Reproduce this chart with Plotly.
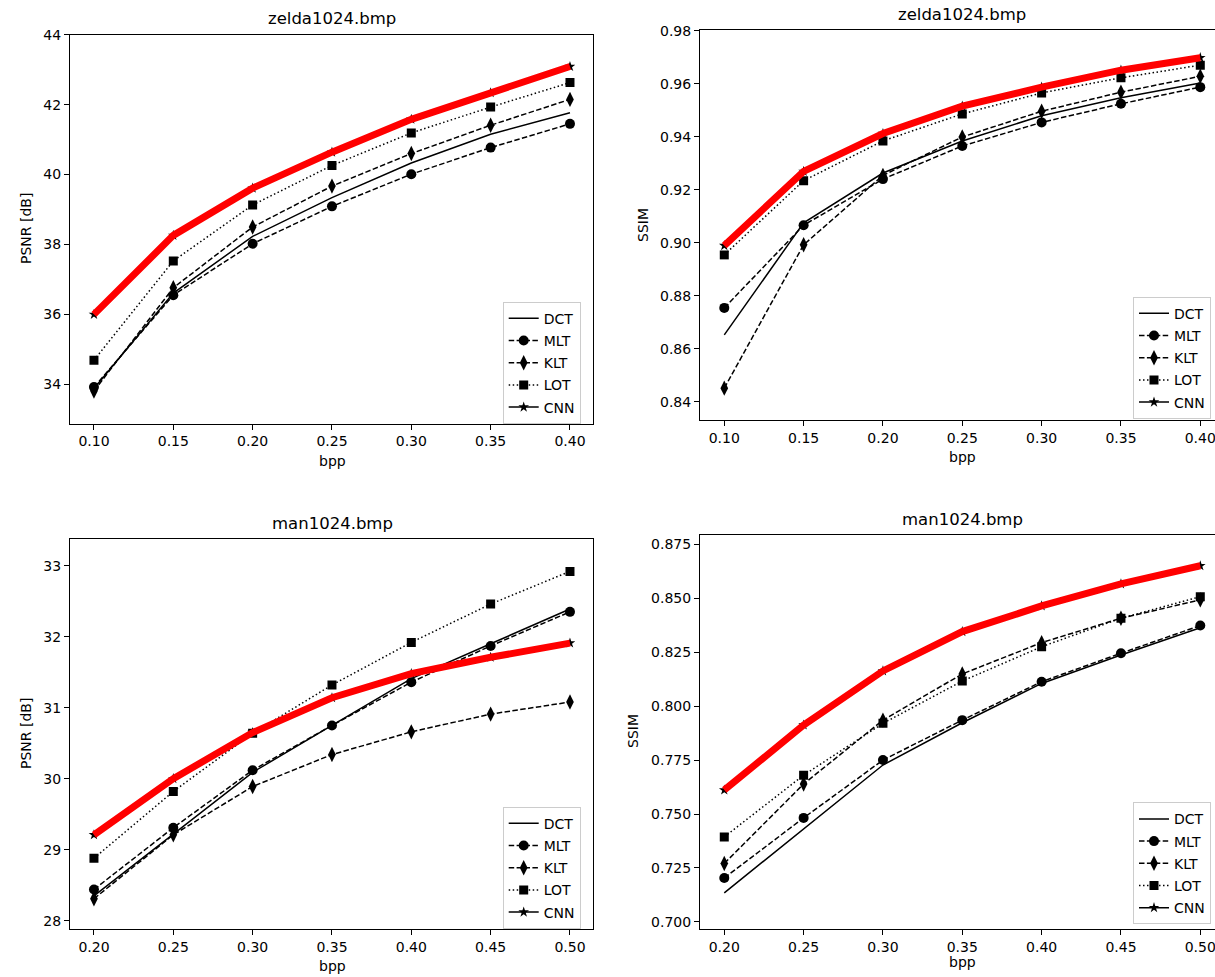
import plotly.graph_objects as go

# ---------------- data ----------------
bpp_zelda = [0.10, 0.15, 0.20, 0.25, 0.30, 0.35, 0.40]
bpp_man = [0.20, 0.25, 0.30, 0.35, 0.40, 0.45, 0.50]

zelda_psnr_dct = [33.88, 36.61, 38.23, 39.34, 40.33, 41.15, 41.77]
zelda_psnr_mlt = [33.92, 36.55, 38.02, 39.09, 40.01, 40.77, 41.45]
zelda_psnr_klt = [33.81, 36.76, 38.50, 39.67, 40.60, 41.41, 42.15]
zelda_psnr_lot = [34.69, 37.53, 39.13, 40.26, 41.19, 41.93, 42.63]
zelda_psnr_cnn = [36.00, 38.26, 39.61, 40.64, 41.58, 42.34, 43.09]

zelda_ssim_dct = [0.8652, 0.9075, 0.9263, 0.9384, 0.9479, 0.9547, 0.9603]
zelda_ssim_mlt = [0.8754, 0.9066, 0.9240, 0.9365, 0.9454, 0.9524, 0.9587]
zelda_ssim_klt = [0.8451, 0.8992, 0.9254, 0.9399, 0.9496, 0.9568, 0.9628]
zelda_ssim_lot = [0.8954, 0.9234, 0.9384, 0.9486, 0.9565, 0.9622, 0.9670]
zelda_ssim_cnn = [0.8989, 0.9269, 0.9412, 0.9515, 0.9587, 0.9651, 0.9698]

man_psnr_dct = [28.35, 29.22, 30.09, 30.75, 31.41, 31.90, 32.39]
man_psnr_mlt = [28.44, 29.31, 30.12, 30.75, 31.36, 31.87, 32.35]
man_psnr_klt = [28.31, 29.21, 29.89, 30.34, 30.66, 30.91, 31.08]
man_psnr_lot = [28.88, 29.82, 30.64, 31.32, 31.92, 32.46, 32.92]
man_psnr_cnn = [29.21, 30.00, 30.65, 31.14, 31.48, 31.71, 31.91]

man_ssim_dct = [0.7135, 0.7433, 0.7727, 0.7923, 0.8105, 0.8237, 0.8363]
man_ssim_mlt = [0.7204, 0.7482, 0.7750, 0.7935, 0.8113, 0.8245, 0.8373]
man_ssim_klt = [0.7271, 0.7639, 0.7935, 0.8149, 0.8294, 0.8407, 0.8492]
man_ssim_lot = [0.7394, 0.7680, 0.7920, 0.8116, 0.8275, 0.8407, 0.8507]
man_ssim_cnn = [0.7611, 0.7912, 0.8163, 0.8345, 0.8464, 0.8566, 0.8650]

series_names = ["DCT", "MLT", "KLT", "LOT", "CNN"]

xticks_zelda = [0.10, 0.15, 0.20, 0.25, 0.30, 0.35, 0.40]
xticks_zelda_text = ["0.10", "0.15", "0.20", "0.25", "0.30", "0.35", "0.40"]
xticks_man = [0.20, 0.25, 0.30, 0.35, 0.40, 0.45, 0.50]
xticks_man_text = ["0.20", "0.25", "0.30", "0.35", "0.40", "0.45", "0.50"]
yticks_zpsnr = [34, 36, 38, 40, 42, 44]
yticks_zssim = [0.84, 0.86, 0.88, 0.90, 0.92, 0.94, 0.96, 0.98]
yticks_zssim_text = ["0.84", "0.86", "0.88", "0.90", "0.92", "0.94", "0.96", "0.98"]
yticks_mpsnr = [28, 29, 30, 31, 32, 33]
yticks_mssim = [0.700, 0.725, 0.750, 0.775, 0.800, 0.825, 0.850, 0.875]
yticks_mssim_text = ["0.700", "0.725", "0.750", "0.775", "0.800", "0.825", "0.850", "0.875"]

titles = ["zelda1024.bmp", "zelda1024.bmp", "man1024.bmp", "man1024.bmp"]

# ---------------- layout helpers ----------------
# The original figure is wider than the 1215 px window: its right edge is cut off.
W, H = 1245, 977
FONT = "DejaVu Sans"


def fx(p):
    return p / W


def fy(p):
    return 1 - p / H


styles = [
    dict(dash="solid", symbol=None),
    dict(dash="5.5px,2.4px", symbol="circle"),
    dict(dash="5.5px,2.4px", symbol="diamond-tall"),
    dict(dash="1.5px,2.5px", symbol="square"),
    dict(dash="solid", symbol="star"),
]
msize = [0, 10, 11, 9, 8]

fig = go.Figure()

panels = [
    (bpp_zelda, [zelda_psnr_dct, zelda_psnr_mlt, zelda_psnr_klt, zelda_psnr_lot, zelda_psnr_cnn]),
    (bpp_zelda, [zelda_ssim_dct, zelda_ssim_mlt, zelda_ssim_klt, zelda_ssim_lot, zelda_ssim_cnn]),
    (bpp_man, [man_psnr_dct, man_psnr_mlt, man_psnr_klt, man_psnr_lot, man_psnr_cnn]),
    (bpp_man, [man_ssim_dct, man_ssim_mlt, man_ssim_klt, man_ssim_lot, man_ssim_cnn]),
]
legend_ids = ["legend", "legend2", "legend3", "legend4"]

for pi, (xs, ys_list) in enumerate(panels):
    xa = "x" if pi == 0 else f"x{pi+1}"
    ya = "y" if pi == 0 else f"y{pi+1}"
    for si, (name, ys) in enumerate(zip(series_names, ys_list)):
        st = styles[si]
        if st["symbol"] is None:
            mode = "lines"
            marker = None
        else:
            mode = "lines+markers"
            marker = dict(symbol=st["symbol"], size=msize[si], color="black",
                          line=dict(width=0))
        fig.add_trace(go.Scatter(
            x=xs, y=ys, name=name, mode=mode, marker=marker,
            line=dict(color="black", width=1.5, dash=st["dash"]),
            xaxis=xa, yaxis=ya, legend=legend_ids[pi],
            legendgroup=f"{pi}-{name}", showlegend=True,
        ))
    # red highlighted CNN curve on top
    fig.add_trace(go.Scatter(
        x=xs, y=ys_list[4], mode="lines", showlegend=False,
        line=dict(color="#ff0000", width=7),
        xaxis=xa, yaxis=ya, hoverinfo="skip",
    ))

axis_common = dict(
    showline=True, linecolor="black", linewidth=1, mirror=True,
    ticks="outside", ticklen=5, tickwidth=1, tickcolor="black",
    showgrid=False, zeroline=False, ticklabeloverflow="allow",
    tickfont=dict(family=FONT, size=14, color="black"),
)

# domains in pixels
dom = [
    dict(x=(70, 593.3), y=(34.7, 423.5), xr=[0.0849, 0.4147], yr=[32.879, 44.0]),
    dict(x=(700, 1223.3), y=(30, 420), xr=[0.0847, 0.4145], yr=[0.83309, 0.98026]),
    dict(x=(70, 593.3), y=(539, 929.3), xr=[0.1849, 0.5147], yr=[27.879, 33.376]),
    dict(x=(700, 1223.3), y=(534.7, 929.3), xr=[0.1847, 0.5145], yr=[0.6966, 0.8794]),
]
xt = [(xticks_zelda, xticks_zelda_text), (xticks_zelda, xticks_zelda_text),
      (xticks_man, xticks_man_text), (xticks_man, xticks_man_text)]
yt = [(yticks_zpsnr, [str(v) for v in yticks_zpsnr]), (yticks_zssim, yticks_zssim_text),
      (yticks_mpsnr, [str(v) for v in yticks_mpsnr]), (yticks_mssim, yticks_mssim_text)]

layout = dict(
    width=W, height=H,
    margin=dict(l=0, r=0, t=0, b=0, autoexpand=False),
    paper_bgcolor="white", plot_bgcolor="white",
    font=dict(family=FONT, size=14, color="black"),
    showlegend=True,
)

for pi, d in enumerate(dom):
    sfx = "" if pi == 0 else str(pi + 1)
    layout[f"xaxis{sfx}"] = dict(
        axis_common, domain=[fx(d["x"][0]), fx(d["x"][1])], range=d["xr"],
        tickvals=xt[pi][0], ticktext=xt[pi][1], anchor=f"y{sfx}",
    )
    layout[f"yaxis{sfx}"] = dict(
        axis_common, domain=[fy(d["y"][1]), fy(d["y"][0])], range=d["yr"],
        tickvals=yt[pi][0], ticktext=yt[pi][1], anchor=f"x{sfx}",
    )

legend_pos = [(502.7, 301.7), (1133, 296.7), (502.7, 806.7), (1133, 802.3)]
for pi, (lx, ly) in enumerate(legend_pos):
    layout[legend_ids[pi]] = dict(
        x=fx(lx), y=fy(ly), xanchor="left", yanchor="top",
        bgcolor="rgba(255,255,255,0.8)", bordercolor="#cccccc", borderwidth=1,
        font=dict(family=FONT, size=14, color="black"),
        tracegroupgap=1, itemwidth=30,
    )

fig.update_layout(**layout)

# titles and axis labels
ann = []
title_pos = [(332, 19), (962, 14), (332, 523), (962, 519)]
for t, (tx, ty) in zip(titles, title_pos):
    ann.append(dict(text=t, x=fx(tx), y=fy(ty), xref="paper", yref="paper",
                    showarrow=False, font=dict(family=FONT, size=16.5, color="black"),
                    xanchor="center", yanchor="middle"))
xlabel_pos = [(332, 461), (962, 457), (332, 966), (962, 962)]
for (tx, ty) in xlabel_pos:
    ann.append(dict(text="bpp", x=fx(tx), y=fy(ty), xref="paper", yref="paper",
                    showarrow=False, font=dict(family=FONT, size=14, color="black"),
                    xanchor="center", yanchor="middle"))
ylabel_pos = [("PSNR [dB]", 26, 229), ("SSIM", 643, 225), ("PSNR [dB]", 26, 734), ("SSIM", 633, 731)]
for (t, tx, ty) in ylabel_pos:
    ann.append(dict(text=t, x=fx(tx), y=fy(ty), xref="paper", yref="paper",
                    showarrow=False, textangle=-90,
                    font=dict(family=FONT, size=14, color="black"),
                    xanchor="center", yanchor="middle"))
fig.update_layout(annotations=ann)

fig.write_html(
    "out.html",
    config={"displayModeBar": False},
    post_script="document.body.style.margin='0';document.body.style.overflow='hidden';",
)
